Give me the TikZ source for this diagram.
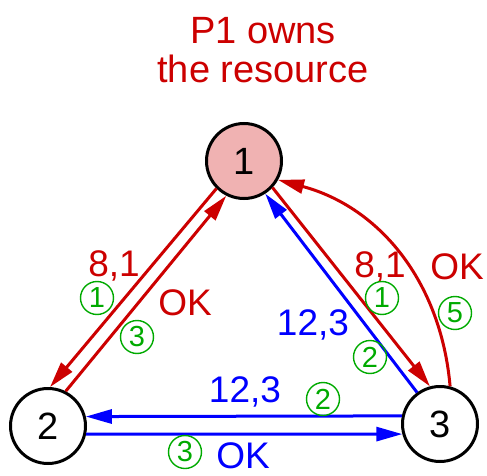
\documentclass[tikz,border=0pt]{standalone}
\usepackage{fontspec}
\setmainfont{Liberation Sans}
\usetikzlibrary{arrows.meta}
\definecolor{cred}{RGB}{204,0,0}
\definecolor{cblue}{RGB}{0,0,255}
\definecolor{cgreen}{RGB}{0,170,0}
\definecolor{cpink}{RGB}{240,178,178}
\tikzset{
  proc/.style={circle,draw=black,line width=3pt,minimum size=75pt,inner sep=0pt,font=\fontsize{38}{40}\selectfont},
  lbl/.style={inner sep=0pt,font=\fontsize{37}{40}\selectfont},
  num/.style={circle,draw=cgreen,text=cgreen,line width=1.4pt,minimum size=33pt,inner sep=0pt,font=\fontsize{29}{30}\selectfont},
  msg/.style={line width=3pt,-{Triangle[length=26pt,width=14pt]}},
}
\begin{document}
\begin{tikzpicture}[x=1pt,y=-1pt]
\useasboundingbox (0,0) rectangle (487,476);
\node[lbl,text=cred,align=center,font=\fontsize{38}{39}\selectfont] (title) at (263,50) {P1 owns\\the resource};
\node[proc,fill=cpink] (n1) at (244,161) {1};
\node[proc] (n2) at (48,426) {2};
\node[proc] (n3) at (440,424) {3};
% edges 1-2
\draw[msg,cred] (n1.225) -- (n2.87);
\draw[msg,cred] (n2.63) -- (n1.243);
% edges 1-3
\draw[msg,cred] (n1.317) -- (n3.105);
\draw[msg,cblue] (n3.126) -- (n1.303);
\draw[msg,cred] (n3.75) to[out=95,in=-15] (n1.331);
% edges 2-3
\draw[msg,cblue] (n3.168.5) -- (n2.14);
\draw[msg,cblue] (n2.-12.7) -- (n3.195.4);
% labels
\node[lbl,text=cred] (l81a) at (114,266) {8,1};
\node[num] (c1a) at (97,298) {1};
\node[lbl,text=cred] (okl) at (185,303) {OK};
\node[num] (c3a) at (137,337) {3};
\node[lbl,text=cblue] (l123b) at (245,392) {12,3};
\node[num] (c2b) at (323,399) {2};
\node[num] (c3b) at (185,452) {3};
\node[lbl,text=cblue] (okb) at (243,456) {OK};
\node[lbl,text=cred] (l81r) at (380,267) {8,1};
\node[lbl,text=cred] (okr) at (457,267) {OK};
\node[num] (c1r) at (382,298) {1};
\node[num] (c5r) at (455,313) {5};
\node[lbl,text=cblue] (l123r) at (313,325) {12,3};
\node[num] (c2r) at (370,357) {2};
\end{tikzpicture}
\end{document}
